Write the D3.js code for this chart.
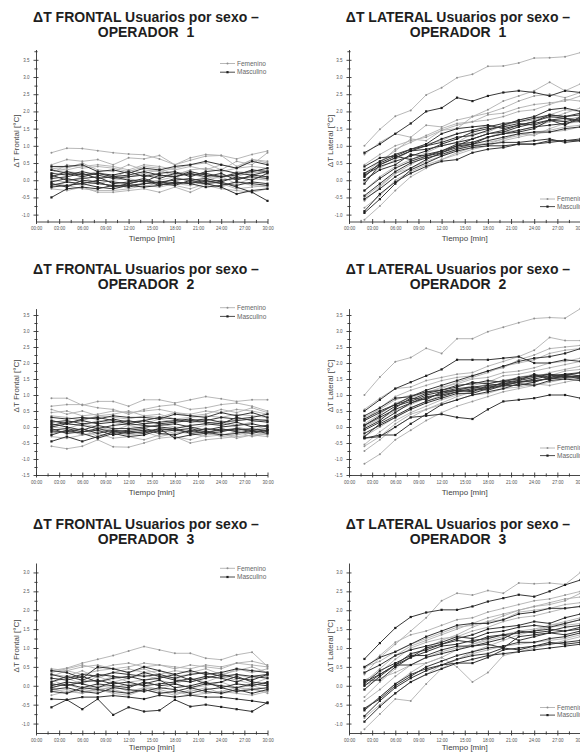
<!DOCTYPE html>
<html lang="es">
<head>
<meta charset="UTF-8">
<title>ΔT Usuarios por sexo</title>
<script src="https://cdn.jsdelivr.net/npm/d3@7"></script>
<style>
  body { margin: 0; background: #fff; }
  svg { display: block; font-family: "Liberation Sans", Arial, sans-serif; }
  .title { font-weight: bold; font-size: 14px; fill: #1e1e1e; text-anchor: middle; }
  .axis path, .axis line { stroke: #333; stroke-width: 0.9; }
  .axis text { font-size: 4.5px; fill: #555; font-family: "Liberation Sans", Arial, sans-serif; }
  .axtitle { font-size: 8px; fill: #444; text-anchor: middle; }
  .legend text { font-size: 6.5px; fill: #666; }
</style>
</head>
<body>
<svg id="chart" width="580" height="753"></svg>
<script>
// minutes sampled (every 2 min)
const minutes = [2, 4, 6, 8, 10, 12, 14, 16, 18, 20, 22, 24, 26, 28, 30];
const xTicks = [0, 3, 6, 9, 12, 15, 18, 21, 24, 27, 30];
const xMinor = [1.5, 4.5, 7.5, 10.5, 13.5, 16.5, 19.5, 22.5, 25.5, 28.5];
const yTicksOp1 = [-1, -0.5, 0, 0.5, 1, 1.5, 2, 2.5, 3, 3.5];
const yTicksOp2 = [-1.5, -1, -0.5, 0, 0.5, 1, 1.5, 2, 2.5, 3, 3.5];
const yTicksOp3 = [-1, -0.5, 0, 0.5, 1, 1.5, 2, 2.5, 3];

// ---- OPERADOR 1 ----
const frontalOp1Fem = [
  [0.80,0.93,0.92,0.86,0.80,0.76,0.74,0.62,0.45,0.58,0.70,0.72,0.62,0.75,0.85],
  [0.45,0.60,0.55,0.60,0.45,0.65,0.62,0.72,0.45,0.65,0.75,0.72,0.40,0.60,0.55],
  [0.40,0.35,0.50,0.30,0.25,0.45,0.30,0.25,0.35,0.45,0.50,0.30,0.55,0.45,0.80],
  [0.10,0.20,0.15,0.25,0.05,0.30,0.20,0.10,0.20,0.25,0.15,0.05,0.25,0.20,0.30],
  [-0.10,-0.15,-0.25,-0.30,-0.30,-0.25,-0.15,-0.20,-0.10,-0.15,-0.05,-0.10,-0.25,-0.20,-0.15],
  [0.30,0.25,0.20,0.05,0.15,0.10,0.20,0.30,0.10,0.20,0.05,0.15,0.10,0.25,0.20],
  [-0.25,-0.30,-0.20,-0.35,-0.35,-0.30,-0.25,-0.35,-0.20,-0.35,-0.15,-0.25,-0.30,-0.35,-0.25],
  [0.00,-0.05,0.10,-0.10,0.00,0.05,-0.05,0.00,0.10,-0.05,0.00,0.10,-0.10,0.05,0.00],
  [0.20,0.45,0.35,0.40,0.35,0.25,0.40,0.35,0.15,0.30,0.35,0.25,0.35,0.60,0.50],
  [0.35,0.30,0.40,0.45,0.40,0.30,0.45,0.40,0.30,0.40,0.30,0.45,0.35,0.40,0.35],
  [-0.20,-0.05,-0.15,-0.05,-0.20,-0.10,-0.20,-0.05,-0.15,-0.25,-0.10,-0.20,-0.05,-0.15,-0.20]
];
const frontalOp1Masc = [
  [-0.50,-0.25,-0.20,-0.25,-0.15,-0.20,-0.10,-0.05,-0.10,-0.05,-0.10,-0.20,-0.40,-0.30,-0.25],
  [0.40,0.40,0.45,0.25,0.30,0.20,0.35,0.30,0.40,0.45,0.55,0.45,0.35,0.55,0.45],
  [0.15,0.00,0.05,0.10,-0.10,-0.05,0.05,-0.10,0.05,0.00,0.05,-0.05,0.10,0.00,0.20],
  [-0.05,0.05,-0.05,-0.10,-0.15,-0.15,-0.10,-0.05,0.00,0.05,-0.05,0.00,0.05,0.10,0.05],
  [0.20,0.15,0.25,0.15,0.05,0.10,0.15,0.05,0.20,0.15,0.20,0.10,0.15,0.30,0.25],
  [-0.20,-0.15,-0.10,-0.20,-0.25,-0.15,-0.20,-0.15,-0.05,-0.10,-0.20,-0.15,-0.05,-0.10,-0.15],
  [0.05,0.10,0.20,0.05,0.10,0.00,-0.05,0.15,0.10,0.20,0.10,0.20,0.00,0.15,0.10],
  [0.30,0.20,0.10,0.20,0.15,0.25,0.10,0.20,0.25,0.10,0.25,0.30,0.20,0.25,0.35],
  [-0.10,-0.20,0.00,-0.05,-0.20,-0.10,0.00,-0.10,-0.15,0.00,-0.10,-0.05,-0.20,-0.35,-0.60],
  [0.10,0.25,0.15,0.20,0.10,0.15,0.25,0.15,0.10,0.25,0.15,0.10,0.20,0.15,0.25],
  [-0.15,-0.05,-0.10,0.00,-0.05,-0.10,0.00,-0.15,-0.05,-0.10,0.00,-0.10,-0.15,-0.05,-0.10]
];
const lateralOp1Fem = [
  [1.00,1.48,1.86,2.03,2.48,2.69,2.98,3.08,3.31,3.32,3.41,3.55,3.56,3.59,3.71],
  [0.75,1.10,1.35,1.25,1.60,1.55,1.75,1.85,2.05,2.30,2.45,2.60,2.85,2.60,2.80],
  [0.20,0.55,0.85,1.20,1.15,1.45,1.50,1.85,1.95,2.10,2.30,2.45,2.50,2.40,2.55],
  [-0.30,0.10,0.40,0.60,0.80,1.00,1.10,1.35,1.40,1.60,1.70,1.75,1.90,2.05,2.00],
  [-0.60,-0.20,0.20,0.45,0.70,0.85,1.00,1.10,1.25,1.40,1.45,1.55,1.70,1.75,1.85],
  [0.00,0.35,0.60,0.85,1.05,1.15,1.35,1.45,1.60,1.55,1.75,1.85,1.80,1.95,2.10],
  [-1.15,-0.75,-0.30,0.10,0.35,0.60,0.80,0.95,1.10,1.20,1.30,1.40,1.45,1.55,1.60],
  [0.45,0.75,1.00,1.15,1.25,1.45,1.60,1.70,1.90,1.95,2.10,2.20,2.25,2.30,2.45],
  [-0.50,-0.15,0.20,0.35,0.55,0.70,0.90,1.05,1.05,1.20,1.35,1.30,1.50,1.65,1.70],
  [0.10,0.50,0.90,1.10,1.30,1.50,1.65,1.70,1.75,1.85,2.00,2.05,2.20,2.35,2.30],
  [-0.80,-0.45,0.00,0.25,0.45,0.60,0.75,0.90,1.00,1.15,1.25,1.35,1.40,1.45,1.55]
];
const lateralOp1Masc = [
  [0.80,1.05,1.35,1.65,2.00,2.10,2.40,2.30,2.45,2.55,2.60,2.55,2.45,2.60,2.55],
  [0.40,0.65,0.70,0.90,1.05,1.35,1.50,1.55,1.60,1.50,1.60,1.70,1.90,1.85,1.95],
  [-0.10,0.45,0.65,0.85,0.90,1.00,1.10,1.20,1.35,1.40,1.55,1.65,1.75,1.70,1.80],
  [-0.95,-0.55,-0.10,0.30,0.50,0.70,0.85,0.95,1.00,1.00,1.05,1.05,1.10,1.15,1.15],
  [-0.30,0.05,0.35,0.55,0.70,0.80,0.95,1.05,1.15,1.25,1.35,1.40,1.40,1.50,1.55],
  [0.00,0.30,0.45,0.75,0.70,0.85,1.05,1.10,1.25,1.35,1.45,1.55,1.60,1.65,1.75],
  [-0.90,-0.40,-0.05,0.20,0.40,0.55,0.60,0.80,0.90,0.95,1.05,1.05,1.15,1.15,1.20],
  [0.20,0.45,0.65,0.85,1.00,1.10,1.25,1.30,1.45,1.60,1.75,1.85,2.05,2.10,2.00],
  [-0.55,-0.25,0.10,0.35,0.60,0.80,1.00,1.05,1.25,1.35,1.40,1.50,1.75,1.60,1.85],
  [0.10,0.50,0.70,0.60,0.75,0.85,1.00,1.20,1.35,1.45,1.60,1.70,1.85,1.80,1.70],
  [0.30,0.55,0.75,0.90,1.00,1.20,1.35,1.45,1.55,1.65,1.70,1.80,1.90,1.85,1.90],
  [-0.45,-0.10,0.25,0.50,0.65,0.75,0.90,1.00,1.05,1.10,1.10,1.15,1.20,1.10,1.15],
  [0.15,0.40,0.55,0.70,0.85,1.05,1.20,1.40,1.50,1.55,1.65,1.60,1.75,1.80,1.75]
];

// ---- OPERADOR 2 ----
const frontalOp2Fem = [
  [0.90,0.90,0.68,0.80,0.80,0.65,0.85,0.85,0.75,0.85,0.95,0.88,0.80,0.85,0.85],
  [0.65,0.70,0.70,0.60,0.55,0.40,0.55,0.65,0.70,0.55,0.60,0.70,0.75,0.65,0.50],
  [0.55,0.40,0.50,0.35,0.40,0.50,0.35,0.30,0.45,0.35,0.40,0.55,0.45,0.60,0.45],
  [0.20,0.10,0.05,0.20,0.15,0.05,0.10,0.25,0.15,0.20,0.10,0.20,0.05,0.15,0.25],
  [-0.60,-0.68,-0.60,-0.40,-0.62,-0.63,-0.50,-0.35,-0.30,-0.50,-0.40,-0.35,-0.30,-0.25,-0.30],
  [-0.10,-0.20,-0.05,-0.30,-0.15,-0.25,-0.20,-0.10,-0.30,-0.40,-0.25,-0.20,-0.35,-0.25,-0.20],
  [0.35,0.30,0.20,0.35,0.30,0.25,0.35,0.40,0.25,0.30,0.35,0.30,0.40,0.35,0.30],
  [0.00,-0.05,0.10,0.00,-0.10,0.05,-0.05,0.10,0.00,-0.05,0.05,0.15,0.00,-0.10,0.05],
  [-0.30,-0.35,-0.25,-0.20,-0.35,-0.30,-0.40,-0.25,-0.15,-0.20,-0.30,-0.25,-0.15,-0.30,-0.20],
  [0.45,0.50,0.35,0.40,0.50,0.45,0.50,0.55,0.45,0.40,0.50,0.45,0.55,0.50,0.40],
  [-0.20,-0.10,-0.25,-0.15,-0.05,-0.20,-0.15,-0.30,-0.20,-0.10,-0.15,-0.30,-0.25,-0.15,-0.25]
];
const frontalOp2Masc = [
  [-0.45,-0.30,-0.45,-0.30,-0.15,-0.20,-0.15,-0.05,-0.35,-0.25,-0.20,-0.05,-0.15,-0.20,-0.10],
  [0.30,0.25,0.30,0.25,0.35,0.30,0.30,0.25,0.40,0.35,0.30,0.45,0.35,0.45,0.30],
  [0.10,0.00,-0.10,0.05,-0.05,-0.05,0.00,0.05,0.10,0.00,-0.10,0.00,0.05,0.10,0.00],
  [-0.15,-0.15,-0.05,-0.20,-0.10,-0.15,-0.20,-0.05,-0.10,-0.15,-0.05,-0.10,-0.10,-0.05,-0.15],
  [0.05,0.15,0.20,0.10,0.15,0.20,0.10,0.15,0.20,0.25,0.15,0.10,0.30,0.20,0.15],
  [-0.05,-0.20,-0.15,-0.10,-0.25,-0.15,-0.10,-0.20,-0.25,-0.10,-0.20,-0.15,-0.05,-0.15,-0.10],
  [0.20,0.10,0.25,0.30,0.20,0.10,0.20,0.30,0.25,0.15,0.20,0.30,0.25,0.30,0.40],
  [-0.25,-0.10,-0.20,-0.35,-0.20,-0.30,-0.25,-0.10,-0.05,-0.20,-0.15,-0.25,-0.20,-0.10,-0.20],
  [0.00,0.10,0.05,-0.05,0.05,0.10,0.05,0.00,-0.05,0.05,0.10,0.05,0.15,0.00,0.05],
  [0.15,0.20,0.10,0.15,0.25,0.15,0.20,0.10,0.15,0.20,0.25,0.15,0.20,0.25,0.20],
  [-0.10,-0.05,-0.15,-0.05,-0.15,-0.10,-0.05,-0.15,-0.10,-0.05,-0.15,-0.10,-0.05,-0.10,-0.05]
];
const lateralOp2Fem = [
  [1.00,1.56,2.04,2.17,2.46,2.30,2.76,2.76,2.98,3.12,3.26,3.39,3.42,3.40,3.70],
  [0.55,0.90,1.20,1.25,1.45,1.55,1.65,1.70,1.90,2.05,2.20,2.40,2.80,2.70,2.70],
  [-1.15,-0.85,-0.40,-0.10,0.20,0.45,0.65,0.80,0.95,1.10,1.20,1.30,1.40,1.50,1.55],
  [0.10,0.40,0.75,0.90,1.10,1.20,1.40,1.55,1.70,1.90,2.00,2.10,2.30,2.40,2.45],
  [-0.55,-0.15,0.20,0.45,0.65,0.85,1.00,1.10,1.25,1.35,1.50,1.55,1.70,1.80,1.90],
  [0.30,0.55,0.85,1.00,1.05,1.25,1.35,1.50,1.55,1.70,1.75,1.85,2.00,2.05,2.15],
  [-0.75,-0.40,0.00,0.30,0.55,0.75,0.95,1.10,1.20,1.25,1.35,1.40,1.55,1.50,1.60],
  [0.00,0.25,0.50,0.70,0.90,1.05,1.15,1.30,1.40,1.60,1.65,1.75,1.85,1.95,2.05],
  [-0.30,0.00,0.30,0.60,0.80,1.00,1.15,1.20,1.35,1.45,1.55,1.65,1.60,1.75,1.80],
  [0.20,0.60,0.95,1.15,1.30,1.45,1.55,1.60,1.75,1.85,2.10,2.25,2.45,2.50,2.55],
  [-0.60,-0.30,0.10,0.40,0.55,0.70,0.85,1.00,1.05,1.20,1.25,1.35,1.30,1.40,1.50]
];
const lateralOp2Masc = [
  [0.50,0.85,1.20,1.40,1.60,1.80,2.10,2.10,2.10,2.15,2.20,2.00,2.00,2.10,2.05],
  [-0.35,-0.30,0.00,0.30,0.35,0.40,0.30,0.25,0.55,0.80,0.85,0.90,1.00,1.00,0.90],
  [-0.05,0.20,0.60,0.90,0.85,1.10,1.20,1.25,1.30,1.35,1.40,1.45,1.50,1.60,1.55],
  [0.25,0.50,0.70,0.95,1.10,1.15,1.25,1.40,1.35,1.45,1.50,1.60,1.55,1.65,1.60],
  [-0.35,-0.25,-0.25,0.10,0.40,0.70,0.85,1.00,1.10,1.20,1.35,1.30,1.45,1.50,1.45],
  [0.05,0.35,0.65,0.80,1.00,1.10,1.15,1.25,1.20,1.40,1.45,1.55,1.65,1.55,1.60],
  [-0.10,0.15,0.45,0.75,0.95,1.00,1.10,1.15,1.25,1.30,1.40,1.50,1.60,1.65,1.70],
  [0.35,0.60,0.90,0.95,1.15,1.30,1.45,1.60,1.75,1.90,2.05,2.15,2.20,2.30,2.45],
  [-0.20,0.05,0.30,0.55,0.75,0.90,1.05,1.05,1.20,1.30,1.30,1.40,1.55,1.60,1.50],
  [0.20,0.45,0.70,0.85,1.05,1.15,1.30,1.35,1.45,1.40,1.55,1.60,1.65,1.60,1.55],
  [-0.30,0.10,0.35,0.60,0.80,0.95,1.10,1.20,1.15,1.30,1.40,1.45,1.50,1.55,1.60],
  [0.05,0.30,0.55,0.75,0.90,1.05,1.15,1.10,1.30,1.35,1.45,1.65,1.50,1.60,1.70]
];

// ---- OPERADOR 3 ----
const frontalOp3Fem = [
  [0.40,0.47,0.60,0.70,0.80,0.92,1.04,0.95,0.86,0.86,0.73,0.69,0.82,0.89,0.51],
  [0.35,0.45,0.55,0.45,0.55,0.60,0.50,0.55,0.45,0.55,0.50,0.45,0.60,0.65,0.55],
  [0.10,0.20,0.05,0.25,0.10,0.20,0.30,0.15,0.05,0.20,0.10,0.25,0.15,0.05,0.20],
  [-0.15,-0.10,-0.20,-0.05,-0.10,-0.20,-0.05,-0.15,-0.25,-0.10,-0.20,-0.15,-0.05,-0.10,-0.15],
  [0.25,0.40,0.30,0.40,0.45,0.35,0.45,0.30,0.40,0.35,0.45,0.30,0.40,0.50,0.35],
  [-0.05,0.05,-0.10,0.00,-0.05,0.05,0.00,-0.10,0.05,-0.05,0.00,0.10,-0.05,0.00,-0.10],
  [0.15,0.00,0.15,0.10,0.25,0.10,0.15,0.25,0.20,0.10,0.25,0.20,0.30,0.20,0.25],
  [-0.25,-0.15,-0.20,-0.10,-0.20,-0.25,-0.10,-0.20,-0.15,-0.25,-0.20,-0.15,-0.20,-0.25,-0.15],
  [0.30,0.25,0.40,0.20,0.35,0.45,0.35,0.40,0.25,0.30,0.35,0.25,0.45,0.35,0.45],
  [0.45,0.40,0.50,0.55,0.45,0.50,0.60,0.55,0.50,0.45,0.55,0.50,0.60,0.55,0.50],
  [-0.05,-0.20,-0.10,-0.15,0.00,-0.15,-0.05,-0.10,-0.20,-0.15,-0.05,-0.20,-0.15,-0.05,-0.20]
];
const frontalOp3Masc = [
  [-0.57,-0.37,-0.62,-0.35,-0.77,-0.57,-0.68,-0.65,-0.37,-0.55,-0.50,-0.56,-0.62,-0.68,-0.44],
  [-0.35,-0.37,-0.30,-0.30,-0.26,-0.30,-0.35,-0.25,-0.30,-0.25,-0.30,-0.30,-0.35,-0.40,-0.46],
  [0.40,0.35,0.20,0.50,0.45,0.35,0.50,0.40,0.30,0.40,0.30,0.35,0.45,0.40,0.35],
  [0.00,0.10,0.05,-0.05,0.10,0.00,0.05,0.15,-0.05,0.00,0.10,-0.05,0.05,0.00,0.10],
  [0.20,0.15,0.25,0.10,0.20,0.25,0.15,0.20,0.30,0.15,0.25,0.20,0.10,0.25,0.20],
  [-0.10,-0.05,-0.15,-0.20,-0.05,-0.10,-0.15,-0.05,-0.10,-0.20,-0.10,-0.05,-0.15,-0.10,-0.05],
  [0.10,0.25,0.15,0.30,0.25,0.20,0.35,0.25,0.15,0.10,0.20,0.30,0.20,0.15,0.30],
  [-0.15,-0.20,-0.05,-0.10,-0.15,-0.20,-0.10,-0.20,-0.15,-0.05,-0.15,-0.20,-0.10,-0.20,-0.10],
  [0.05,0.00,0.10,0.15,0.05,0.10,0.00,0.05,0.10,0.20,0.05,0.10,0.25,0.10,0.05],
  [0.30,0.20,0.30,0.25,0.35,0.30,0.25,0.30,0.20,0.30,0.35,0.25,0.30,0.25,0.30],
  [-0.05,0.05,-0.05,0.05,0.00,-0.05,0.10,0.00,0.05,-0.05,0.05,0.00,-0.05,0.05,0.00]
];
const lateralOp3Fem = [
  [0.30,0.75,1.10,1.45,1.80,2.25,2.45,2.40,2.52,2.45,2.72,2.70,2.72,2.68,3.00],
  [-0.30,0.10,0.45,0.80,1.00,1.20,1.35,1.55,1.70,1.85,2.00,2.10,2.15,2.25,2.45],
  [-1.15,-0.75,-0.35,-0.40,0.05,0.45,0.70,0.90,1.05,1.20,1.35,1.45,1.60,1.70,1.80],
  [0.00,0.20,0.35,0.55,0.60,0.75,0.50,0.10,0.35,0.80,0.90,1.00,1.10,1.20,1.30],
  [0.45,0.80,1.15,1.35,1.45,1.60,1.75,1.80,1.95,2.05,2.15,2.25,2.30,2.40,2.50],
  [-0.60,-0.30,0.05,0.35,0.60,0.75,0.95,1.10,1.25,1.35,1.45,1.50,1.60,1.65,1.75],
  [0.15,0.35,0.70,1.00,1.15,1.25,1.30,1.45,1.55,1.70,1.80,1.85,1.95,2.05,2.10],
  [-0.85,-0.50,-0.20,0.10,0.30,0.55,0.70,0.85,0.95,1.05,1.10,1.15,1.20,1.25,1.35],
  [0.50,0.65,0.90,1.10,1.25,1.40,1.55,1.60,1.70,1.75,1.95,2.00,2.05,2.15,2.20],
  [0.10,0.45,0.80,1.05,1.20,1.35,1.50,1.65,1.80,1.90,2.00,2.10,2.20,2.30,2.35],
  [-0.40,-0.10,0.25,0.55,0.75,0.90,1.00,1.10,1.20,1.30,1.40,1.45,1.55,1.60,1.65]
];
const lateralOp3Masc = [
  [0.71,1.13,1.53,1.82,1.94,2.01,2.01,2.10,2.23,2.32,2.41,2.36,2.50,2.67,2.80],
  [-0.95,-0.55,-0.20,0.10,0.30,0.45,0.60,0.70,0.80,0.85,0.90,0.95,1.00,1.05,1.10],
  [0.15,0.15,0.50,0.75,1.00,1.10,1.20,1.15,1.30,1.35,1.20,1.30,1.40,1.35,1.45],
  [0.50,0.75,0.90,1.10,1.30,1.45,1.60,1.65,1.65,1.75,1.90,1.95,2.05,2.05,2.10],
  [-0.60,-0.35,0.00,0.25,0.50,0.65,0.80,0.90,1.00,1.05,1.15,1.15,1.25,1.30,1.40],
  [0.05,0.40,0.60,0.80,0.80,0.95,1.05,1.05,1.10,1.00,1.30,1.35,1.40,1.45,1.50],
  [-0.80,-0.40,-0.05,0.20,0.40,0.55,0.60,0.60,0.75,0.95,1.00,1.05,1.10,1.15,1.20],
  [0.10,0.30,0.55,0.85,0.95,1.10,1.25,1.35,1.50,1.55,1.60,1.70,1.65,1.80,1.90],
  [-0.10,0.25,0.55,0.55,0.75,0.85,0.95,1.05,1.15,1.25,1.45,1.40,1.45,1.55,1.60],
  [0.00,0.30,0.55,0.75,0.90,1.05,1.10,1.20,1.25,1.35,1.40,1.45,1.50,1.45,1.55],
  [-0.65,-0.30,0.05,0.30,0.45,0.55,0.70,0.80,0.85,1.00,0.95,1.05,1.15,1.10,1.15],
  [0.35,0.55,0.80,0.95,1.05,1.15,1.30,1.25,1.40,1.45,1.55,1.60,1.55,1.65,1.75]
];

const svg = d3.select("#chart");

// layout: two columns, three rows
const cols = [
  { x0: 36, x1: 267.5, titleX: 146, yTitleX: 16, kind: "FRONTAL", ylab: "ΔT Frontal [°C]" },
  { x0: 349, x1: 580.5, titleX: 458, yTitleX: 330, kind: "LATERAL", ylab: "ΔT Lateral [°C]" }
];
const rows = [
  { op: 1, bottom: 221.5, top: 49.5, dom: [-1.2, 3.8], ticks: yTicksOp1, t1: 22, t2: 37, yTitle: 141, xt: 19.5,
    legTop: 63.5, legBottom: 199, data: [[frontalOp1Fem, frontalOp1Masc], [lateralOp1Fem, lateralOp1Masc]] },
  { op: 2, bottom: 475, top: 308.6, dom: [-1.5, 3.7], ticks: yTicksOp2, t1: 274, t2: 289, yTitle: 386, xt: 19.5,
    legTop: 307.7, legBottom: 448, data: [[frontalOp2Fem, frontalOp2Masc], [lateralOp2Fem, lateralOp2Masc]] },
  { op: 3, bottom: 733, top: 563, dom: [-1.25, 3.25], ticks: yTicksOp3, t1: 529, t2: 544, yTitle: 646, xt: 16.5,
    legTop: 568.3, legBottom: 707.5, data: [[frontalOp3Fem, frontalOp3Masc], [lateralOp3Fem, lateralOp3Masc]] }
];

const femColor = "#b0b0b0";
const mascColor = "#383838";
const fmtTime = d => d3.format("02")(d) + ":00";
const fmtY = d3.format(".1f");

rows.forEach(r => {
  cols.forEach((c, ci) => {
    const g = svg.append("g");
    const x = d3.scaleLinear().domain([0, 30]).range([c.x0, c.x1]);
    const y = d3.scaleLinear().domain(r.dom).range([r.bottom, r.top]);

    // titles
    g.append("text").attr("class", "title").attr("x", c.titleX).attr("y", r.t1)
      .text(`ΔT ${c.kind} Usuarios por sexo –`);
    g.append("text").attr("class", "title").attr("x", c.titleX).attr("y", r.t2)
      .attr("xml:space", "preserve").text(`OPERADOR  ${r.op}`);

    // x axis
    const gx = g.append("g").attr("class", "axis").attr("transform", `translate(0,${r.bottom})`);
    gx.call(d3.axisBottom(x).tickValues(xTicks).tickSize(2.5).tickSizeOuter(0)
      .tickPadding(3).tickFormat(fmtTime));
    gx.selectAll(".tick line").attr("y1", -2.5);
    const gxm = g.append("g").attr("class", "axis").attr("transform", `translate(0,${r.bottom})`);
    gxm.call(d3.axisBottom(x).tickValues(xMinor).tickSize(1.6).tickSizeOuter(0).tickFormat(""));
    gxm.selectAll(".tick line").attr("y1", -1.6);
    gxm.select(".domain").remove();

    // y axis
    const gy = g.append("g").attr("class", "axis").attr("transform", `translate(${c.x0},0)`);
    gy.call(d3.axisLeft(y).tickValues(r.ticks).tickSize(2.5).tickSizeOuter(0)
      .tickPadding(4).tickFormat(d => fmtY(d).replace("−", "-")));
    gy.selectAll(".tick line").attr("x1", 2.5);
    const minorY = r.ticks.map(v => v + 0.25).filter(v => v < r.dom[1]);
    const gym = g.append("g").attr("class", "axis").attr("transform", `translate(${c.x0},0)`);
    gym.call(d3.axisLeft(y).tickValues(minorY).tickSize(1.6).tickSizeOuter(0).tickFormat(""));
    gym.selectAll(".tick line").attr("x1", 1.6);
    gym.select(".domain").remove();

    // axis titles
    g.append("text").attr("class", "axtitle")
      .attr("x", (c.x0 + c.x1) / 2).attr("y", r.bottom + r.xt)
      .text("Tiempo [min]");
    g.append("text").attr("class", "axtitle")
      .attr("transform", `translate(${c.yTitleX},${r.yTitle}) rotate(-90)`)
      .attr("dy", "0.35em")
      .text(c.ylab);

    // series
    const [fem, masc] = r.data[ci];
    const line = d3.line().x((d, i) => x(minutes[i])).y(d => y(d));

    fem.forEach(s => {
      g.append("path").attr("d", line(s)).attr("fill", "none")
        .attr("stroke", femColor).attr("stroke-width", 0.9);
      g.selectAll(null).data(s).enter().append("circle")
        .attr("cx", (d, i) => x(minutes[i])).attr("cy", d => y(d))
        .attr("r", 1).attr("fill", "#8f8f8f");
    });
    masc.forEach(s => {
      g.append("path").attr("d", line(s)).attr("fill", "none")
        .attr("stroke", mascColor).attr("stroke-width", 1);
      g.selectAll(null).data(s).enter().append("rect")
        .attr("x", (d, i) => x(minutes[i]) - 1.1).attr("y", d => y(d) - 1.1)
        .attr("width", 2.2).attr("height", 2.2).attr("fill", "#1e1e1e");
    });

    // legend
    let lx, ly, step;
    if (ci === 0) { lx = 220; ly = r.legTop; step = 8.7; }
    else { lx = 540; ly = r.legBottom; step = 7.6; }
    const leg = g.append("g").attr("class", "legend");
    [["Femenino", femColor, "c"], ["Masculino", mascColor, "s"]].forEach((e, k) => {
      const yy = ly + k * step;
      leg.append("line").attr("x1", lx).attr("x2", lx + 15).attr("y1", yy).attr("y2", yy)
        .attr("stroke", e[1]).attr("stroke-width", 0.9);
      if (e[2] === "c") {
        leg.append("circle").attr("cx", lx + 7.5).attr("cy", yy).attr("r", 1).attr("fill", "#8f8f8f");
      } else {
        leg.append("rect").attr("x", lx + 6.4).attr("y", yy - 1.1).attr("width", 2.2).attr("height", 2.2)
          .attr("fill", "#1e1e1e");
      }
      leg.append("text").attr("x", lx + 17).attr("y", yy).attr("dy", "0.35em").text(e[0]);
    });
  });
});
</script>
</body>
</html>
